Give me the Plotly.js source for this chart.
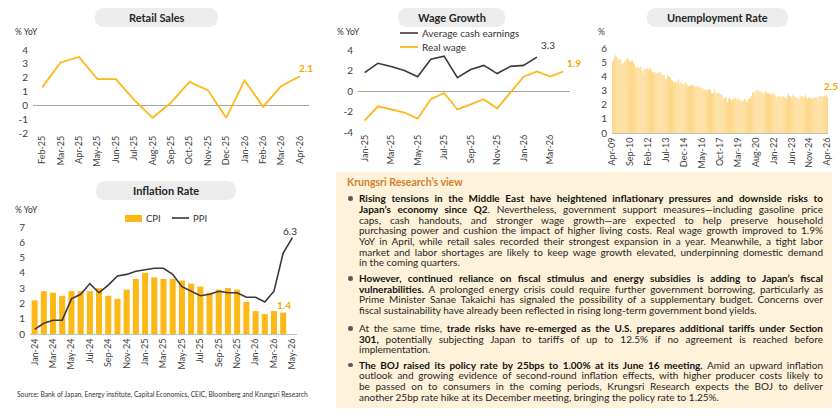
<!DOCTYPE html>
<html>
<head>
<meta charset="utf-8">
<script src="https://cdn.plot.ly/plotly-3.0.1.min.js"></script>
<style>
  html, body { margin: 0; padding: 0; background: #ffffff; }
  #wrap { position: relative; width: 840px; height: 419px; overflow: hidden; font-family: Lato, "Open Sans", sans-serif; }
  #chart { position: absolute; left: 0; top: 0; width: 840px; height: 419px; }
  #view { position: absolute; left: 336px; top: 172px; width: 496px; height: 236px; background: #FEF3DA; }
  #view .ttl { position: absolute; left: 11px; top: 4px; font-size: 10.5px; font-weight: 700; color: #D07F2E; line-height: 13px; }
  #view .para { position: absolute; left: 23px; width: 464px; color: #1e1e1e; font-size: 10px; }
  #view .ln { white-space: nowrap; height: 10.7px; line-height: 10.7px; }
  #view b { font-weight: 700; color: #111; }
  #view .dot { position: absolute; left: 12px; width: 4.6px; height: 4.6px; border-radius: 50%; background: #5a5a5a; }
</style>
</head>
<body>
<div id="wrap">
  <div id="chart"></div>
  <div id="view">
    <div class="ttl">Krungsri Research’s view</div>

    <div class="dot" style="top:24.4px"></div>
    <div class="para" style="top:21.3px">
      <div class="ln j"><span><b>Rising tensions in the Middle East have heightened inflationary pressures and downside risks to</b></span></div>
      <div class="ln j"><span><b>Japan’s economy since Q2</b>. Nevertheless, government support measures—including gasoline price</span></div>
      <div class="ln j"><span>caps, cash handouts, and stronger wage growth—are expected to help preserve household</span></div>
      <div class="ln j"><span>purchasing power and cushion the impact of higher living costs. Real wage growth improved to 1.9%</span></div>
      <div class="ln j"><span>YoY in April, while retail sales recorded their strongest expansion in a year. Meanwhile, a tight labor</span></div>
      <div class="ln j"><span>market and labor shortages are likely to keep wage growth elevated, underpinning domestic demand</span></div>
      <div class="ln"><span>in the coming quarters.</span></div>
    </div>

    <div class="dot" style="top:104px"></div>
    <div class="para" style="top:101px">
      <div class="ln j"><span><b>However, continued reliance on fiscal stimulus and energy subsidies is adding to Japan’s fiscal</b></span></div>
      <div class="ln j"><span><b>vulnerabilities.</b> A prolonged energy crisis could require further government borrowing, particularly as</span></div>
      <div class="ln j"><span>Prime Minister Sanae Takaichi has signaled the possibility of a supplementary budget. Concerns over</span></div>
      <div class="ln"><span>fiscal sustainability have already been reflected in rising long-term government bond yields.</span></div>
    </div>

    <div class="dot" style="top:154px"></div>
    <div class="para" style="top:151px">
      <div class="ln j"><span>At the same time, <b>trade risks have re-emerged as the U.S. prepares additional tariffs under Section</b></span></div>
      <div class="ln j"><span><b>301,</b> potentially subjecting Japan to tariffs of up to 12.5% if no agreement is reached before</span></div>
      <div class="ln"><span>implementation.</span></div>
    </div>

    <div class="dot" style="top:190.7px"></div>
    <div class="para" style="top:187.7px">
      <div class="ln j"><span><b>The BOJ raised its policy rate by 25bps to 1.00% at its June 16 meeting.</b> Amid an upward inflation</span></div>
      <div class="ln j"><span>outlook and growing evidence of second-round inflation effects, with higher producer costs likely to</span></div>
      <div class="ln j"><span>be passed on to consumers in the coming periods, Krungsri Research expects the BOJ to deliver</span></div>
      <div class="ln"><span>another 25bp rate hike at its December meeting, bringing the policy rate to 1.25%.</span></div>
    </div>
  </div>
</div>

<script>
// ---------- Retail sales (% YoY) ----------
const retailMonths = ['Feb-25','Mar-25','Apr-25','May-25','Jun-25','Jul-25','Aug-25','Sep-25',
                      'Oct-25','Nov-25','Dec-25','Jan-26','Feb-26','Mar-26','Apr-26'];
const retailSales = [1.3, 3.1, 3.5, 1.9, 1.9, 0.4, -0.9, 0.2, 1.7, 1.1, -0.9, 1.8, -0.1, 1.4, 2.1];
const retailTicks = [-2, -1, 0, 1, 2, 3, 4];

// ---------- Wage growth (% YoY) ----------
const wageMonths = ['Jan-25','Feb-25','Mar-25','Apr-25','May-25','Jun-25','Jul-25','Aug-25',
                    'Sep-25','Oct-25','Nov-25','Dec-25','Jan-26','Feb-26','Mar-26','Apr-26'];
const avgCashEarnings = [1.8, 2.7, 2.4, 2.0, 1.4, 3.1, 3.4, 1.3, 2.1, 2.5, 1.7, 2.4, 2.5, 3.3];
const realWage = [-2.9, -1.5, -1.8, -2.1, -2.7, -0.8, -0.2, -1.8, -1.3, -0.8, -1.7, -0.1, 1.4, 1.9, 1.4, 1.9];
const wageTicks = [-4, -2, 0, 2, 4];

// ---------- Unemployment rate (%), monthly from Apr-09 ----------
const unempStart = { year: 2009, month: 4 };
const unemployment = [
  5.0, 5.2, 5.4, 5.5, 5.4, 5.3, 5.1, 5.2, 5.2,                    // 2009 Apr-Dec
  4.9, 4.9, 5.0, 5.1, 5.2, 5.3, 5.2, 5.1, 5.0, 5.1, 5.1, 4.9,     // 2010
  4.9, 4.7, 4.6, 4.7, 4.6, 4.6, 4.7, 4.4, 4.2, 4.5, 4.5, 4.5,     // 2011
  4.6, 4.5, 4.5, 4.6, 4.4, 4.3, 4.3, 4.2, 4.3, 4.2, 4.2, 4.3,     // 2012
  4.2, 4.3, 4.1, 4.1, 4.1, 3.9, 3.8, 4.1, 4.0, 4.0, 3.9, 3.7,     // 2013
  3.7, 3.6, 3.6, 3.6, 3.5, 3.7, 3.8, 3.5, 3.6, 3.5, 3.5, 3.4,     // 2014
  3.6, 3.5, 3.4, 3.3, 3.3, 3.4, 3.3, 3.4, 3.4, 3.2, 3.3, 3.3,     // 2015
  3.2, 3.3, 3.2, 3.2, 3.2, 3.1, 3.0, 3.1, 3.0, 3.0, 3.1, 3.1,     // 2016
  3.0, 2.8, 2.8, 2.8, 3.1, 2.8, 2.8, 2.8, 2.8, 2.8, 2.7, 2.7,     // 2017
  2.4, 2.5, 2.5, 2.5, 2.2, 2.4, 2.5, 2.4, 2.3, 2.4, 2.5, 2.4,     // 2018
  2.5, 2.3, 2.5, 2.4, 2.3, 2.3, 2.3, 2.2, 2.4, 2.4, 2.2, 2.2,     // 2019
  2.4, 2.4, 2.5, 2.6, 2.9, 2.8, 2.9, 3.0, 3.0, 3.1, 2.9, 3.0,     // 2020
  2.9, 2.9, 2.7, 2.8, 3.0, 2.9, 2.8, 2.8, 2.8, 2.7, 2.8, 2.7,     // 2021
  2.8, 2.7, 2.6, 2.5, 2.6, 2.6, 2.6, 2.5, 2.6, 2.6, 2.5, 2.5,     // 2022
  2.4, 2.6, 2.8, 2.6, 2.6, 2.5, 2.7, 2.6, 2.6, 2.5, 2.5, 2.4,     // 2023
  2.4, 2.6, 2.6, 2.6, 2.6, 2.5, 2.7, 2.5, 2.4, 2.5, 2.5, 2.4,     // 2024
  2.5, 2.4, 2.5, 2.5, 2.5, 2.5, 2.3, 2.6, 2.6, 2.6, 2.6, 2.6,     // 2025
  2.7, 2.6, 2.7, 2.5                                              // 2026 Jan-Apr
];
const unempTickStep = 17;
const unempTicks = [0, 1, 2, 3, 4, 5, 6];

// ---------- Inflation (% YoY) ----------
const inflMonths = ['Jan-24','Feb-24','Mar-24','Apr-24','May-24','Jun-24','Jul-24','Aug-24','Sep-24','Oct-24',
                    'Nov-24','Dec-24','Jan-25','Feb-25','Mar-25','Apr-25','May-25','Jun-25','Jul-25','Aug-25',
                    'Sep-25','Oct-25','Nov-25','Dec-25','Jan-26','Feb-26','Mar-26','Apr-26','May-26'];
const cpi = [2.2, 2.8, 2.7, 2.5, 2.8, 2.8, 2.8, 3.0, 2.5, 2.3, 2.9, 3.6, 4.0, 3.7,
             3.6, 3.6, 3.5, 3.3, 3.1, 2.7, 2.9, 3.0, 2.9, 2.1, 1.5, 1.3, 1.5, 1.4];
const ppi = [0.3, 0.7, 0.9, 0.9, 2.3, 2.6, 3.3, 2.7, 3.2, 3.8, 3.9, 4.1, 4.2, 4.3, 4.3,
             3.9, 3.1, 2.8, 2.5, 2.6, 2.8, 2.7, 2.7, 2.4, 2.4, 2.1, 2.8, 5.3, 6.3];
const inflTicks = [0, 1, 2, 3, 4, 5, 6, 7];

// ---------- helpers ----------
const W = 840, H = 419;
const fx = p => p / W;
const fy = p => 1 - p / H;
const MON = ['Jan','Feb','Mar','Apr','May','Jun','Jul','Aug','Sep','Oct','Nov','Dec'];
function monthLabels(start, n) {
  const out = [];
  for (let i = 0; i < n; i++) {
    const m = (start.month - 1 + i) % 12;
    const y = start.year + Math.floor((start.month - 1 + i) / 12);
    out.push(MON[m] + '-' + String(y % 100).padStart(2, '0'));
  }
  return out;
}
const every = (arr, step) => arr.filter((_, i) => i % step === 0);
const unempMonths = monthLabels(unempStart, unemployment.length);

const GOLD = '#FBB817';
const DARK = '#3E3838';
const LABEL_GOLD = '#F2A900';
const TXT = '#404040';
const FONT = 'Lato, "Open Sans", sans-serif';

function pill(x0, y0, x1, y1) {
  const r = (y1 - y0) / 2;
  const rx = r / W, ry = r / H;
  const X0 = fx(x0), X1 = fx(x1), Y0 = fy(y0), Y1 = fy(y1);
  return {
    type: 'path', xref: 'paper', yref: 'paper', layer: 'below',
    fillcolor: '#ECECEC', line: { width: 0 },
    path: `M ${X0 + rx},${Y0} L ${X1 - rx},${Y0} Q ${X1},${Y0} ${X1},${Y0 - ry} ` +
          `L ${X1},${Y1 + ry} Q ${X1},${Y1} ${X1 - rx},${Y1} L ${X0 + rx},${Y1} ` +
          `Q ${X0},${Y1} ${X0},${Y1 + ry} L ${X0},${Y0 - ry} Q ${X0},${Y0} ${X0 + rx},${Y0} Z`
  };
}
function txt(x, y, text, opts = {}) {
  return Object.assign({
    xref: 'paper', yref: 'paper', x: fx(x), y: fy(y), text, showarrow: false,
    xanchor: 'left', yanchor: 'middle', font: { family: FONT, size: 9, color: '#333' }
  }, opts);
}

// ---------- traces ----------
const traces = [
  { type: 'scatter', mode: 'lines', x: retailMonths, y: retailSales, xaxis: 'x', yaxis: 'y',
    line: { color: GOLD, width: 1.8 }, hoverinfo: 'skip' },
  { type: 'scatter', mode: 'lines', x: wageMonths.slice(0, avgCashEarnings.length), y: avgCashEarnings,
    xaxis: 'x2', yaxis: 'y2', line: { color: DARK, width: 1.6 }, name: 'Average cash earnings' },
  { type: 'scatter', mode: 'lines', x: wageMonths, y: realWage, xaxis: 'x2', yaxis: 'y2',
    line: { color: GOLD, width: 1.8 }, name: 'Real wage' },
  { type: 'bar', x: unempMonths, y: unemployment, xaxis: 'x3', yaxis: 'y3', width: 0.82,
    marker: { color: '#FDD27A', line: { width: 0 } }, name: 'Unemployment' },
  { type: 'bar', x: inflMonths.slice(0, cpi.length), y: cpi, xaxis: 'x4', yaxis: 'y4', width: 0.66,
    marker: { color: GOLD, line: { width: 0 } }, name: 'CPI' },
  { type: 'scatter', mode: 'lines', x: inflMonths, y: ppi, xaxis: 'x4', yaxis: 'y4',
    line: { color: DARK, width: 1.6 }, name: 'PPI' }
];

// ---------- axes ----------
const xBase = {
  type: 'category', tickmode: 'array', tickangle: -90, ticks: '', showgrid: false, zeroline: false,
  tickfont: { family: FONT, size: 9, color: TXT }, fixedrange: true
};
const yBase = {
  showgrid: false, showline: false, ticks: '', tickmode: 'array',
  tickfont: { family: FONT, size: 10, color: TXT },
  zeroline: true, zerolinecolor: '#A6A6A6', zerolinewidth: 1, fixedrange: true, ticklabelstandoff: 4
};
const yTicks = vals => ({ tickvals: vals, ticktext: vals.map(v => String(v)) });

const layout = {
  width: W, height: H, autosize: false, showlegend: false,
  margin: { l: 0, r: 0, t: 0, b: 0 },
  paper_bgcolor: 'rgba(0,0,0,0)', plot_bgcolor: 'rgba(0,0,0,0)',
  font: { family: FONT },

  xaxis:  Object.assign({}, xBase, { domain: [fx(33), fx(309)], anchor: 'y', range: [-0.5, retailMonths.length - 0.5],
            tickvals: retailMonths, ticktext: retailMonths }),
  yaxis:  Object.assign({}, yBase, yTicks(retailTicks), { domain: [fy(133), fy(50)], anchor: 'x', range: [-2, 4] }),

  xaxis2: Object.assign({}, xBase, { domain: [fx(358), fx(570)], anchor: 'y2', range: [-0.5, wageMonths.length - 0.5],
            tickvals: every(wageMonths, 2), ticktext: every(wageMonths, 2) }),
  yaxis2: Object.assign({}, yBase, yTicks(wageTicks), { domain: [fy(132), fy(50)], anchor: 'x2', range: [-4, 4] }),

  xaxis3: Object.assign({}, xBase, { domain: [fx(612), fx(828)], anchor: 'y3', range: [-0.5, unempMonths.length - 0.5],
            tickvals: every(unempMonths, unempTickStep), ticktext: every(unempMonths, unempTickStep),
            showline: true, linecolor: '#BFBFBF', linewidth: 1 }),
  yaxis3: Object.assign({}, yBase, yTicks(unempTicks), { domain: [fy(133), fy(48)], anchor: 'x3', range: [0, 6], zeroline: false }),

  xaxis4: Object.assign({}, xBase, { domain: [fx(30), fx(297)], anchor: 'y4', range: [-0.5, inflMonths.length - 0.5],
            tickvals: every(inflMonths, 2), ticktext: every(inflMonths, 2),
            showline: true, linecolor: '#BFBFBF', linewidth: 1 }),
  yaxis4: Object.assign({}, yBase, yTicks(inflTicks), { domain: [fy(334), fy(227)], anchor: 'x4', range: [0, 7], zeroline: false }),

  shapes: [
    pill(95, 8, 218, 27),
    pill(398, 8, 505, 27),
    pill(647, 8, 788, 27),
    pill(96, 181, 236, 200),
    // wage legend keys
    { type: 'line', xref: 'paper', yref: 'paper', x0: fx(400), x1: fx(418), y0: fy(33), y1: fy(33), line: { color: DARK, width: 1.6 } },
    { type: 'line', xref: 'paper', yref: 'paper', x0: fx(400), x1: fx(418), y0: fy(47), y1: fy(47), line: { color: GOLD, width: 1.8 } },
    // inflation legend keys
    { type: 'rect', xref: 'paper', yref: 'paper', x0: fx(125), x1: fx(142), y0: fy(222), y1: fy(215), fillcolor: GOLD, line: { width: 0 } },
    { type: 'line', xref: 'paper', yref: 'paper', x0: fx(172), x1: fx(189), y0: fy(218), y1: fy(218), line: { color: DARK, width: 1.6 } }
  ],

  annotations: [
    // panel titles
    txt(156.5, 17.5, '<b>Retail Sales</b>', { xanchor: 'center', font: { family: FONT, size: 11, color: '#262626' } }),
    txt(451.5, 17.5, '<b>Wage Growth</b>', { xanchor: 'center', font: { family: FONT, size: 11, color: '#262626' } }),
    txt(717.5, 17.5, '<b>Unemployment Rate</b>', { xanchor: 'center', font: { family: FONT, size: 11, color: '#262626' } }),
    txt(166, 190.5, '<b>Inflation Rate</b>', { xanchor: 'center', font: { family: FONT, size: 11, color: '#262626' } }),
    // unit labels
    txt(13, 32, '% YoY', { font: { family: FONT, size: 8.5, color: '#333' } }),
    txt(335, 32, '% YoY', { font: { family: FONT, size: 8.5, color: '#333' } }),
    txt(596, 32, '%', { font: { family: FONT, size: 8.5, color: '#333' } }),
    txt(13, 210, '% YoY', { font: { family: FONT, size: 8.5, color: '#333' } }),
    // legends
    txt(420, 33, 'Average cash earnings', { font: { family: FONT, size: 10, color: '#333' } }),
    txt(420, 47, 'Real wage', { font: { family: FONT, size: 10, color: '#333' } }),
    txt(144, 218, 'CPI', { font: { family: FONT, size: 9.5, color: '#333' } }),
    txt(191, 218, 'PPI', { font: { family: FONT, size: 9.5, color: '#333' } }),
    // value labels
    { xref: 'x', yref: 'y', x: retailMonths[retailMonths.length - 1], y: retailSales[retailSales.length - 1],
      text: '<b>' + retailSales[retailSales.length - 1].toFixed(1) + '</b>', showarrow: false,
      xshift: 6, yshift: 8, font: { family: FONT, size: 10, color: LABEL_GOLD } },
    { xref: 'x2', yref: 'y2', x: wageMonths[avgCashEarnings.length - 1], y: avgCashEarnings[avgCashEarnings.length - 1],
      text: avgCashEarnings[avgCashEarnings.length - 1].toFixed(1), showarrow: false,
      xshift: 11, yshift: 12, font: { family: FONT, size: 10, color: '#333' } },
    { xref: 'x2', yref: 'y2', x: wageMonths[wageMonths.length - 1], y: realWage[realWage.length - 1],
      text: '<b>' + realWage[realWage.length - 1].toFixed(1) + '</b>', showarrow: false,
      xshift: 11, yshift: 9, font: { family: FONT, size: 10, color: LABEL_GOLD } },
    { xref: 'x3', yref: 'y3', x: unempMonths[unempMonths.length - 1], y: unemployment[unemployment.length - 1],
      text: '<b>' + unemployment[unemployment.length - 1].toFixed(1) + '</b>', showarrow: false,
      xshift: 4, yshift: 12, font: { family: FONT, size: 10, color: LABEL_GOLD } },
    { xref: 'x4', yref: 'y4', x: inflMonths[ppi.length - 1], y: ppi[ppi.length - 1],
      text: ppi[ppi.length - 1].toFixed(1), showarrow: false,
      xshift: -2, yshift: 7, font: { family: FONT, size: 10, color: '#333' } },
    { xref: 'x4', yref: 'y4', x: inflMonths[cpi.length - 1], y: cpi[cpi.length - 1],
      text: '<b>' + cpi[cpi.length - 1].toFixed(1) + '</b>', showarrow: false,
      xshift: 1, yshift: 8, font: { family: FONT, size: 10, color: LABEL_GOLD } },
    // source line
    txt(15, 394, 'Source: Bank of Japan, Energy institute, Capital Economics, CEIC, Bloomberg and Krungsri Research',
        { font: { family: FONT, size: 6.7, color: '#333' } })
  ]
};

Plotly.newPlot('chart', traces, layout, { staticPlot: true, displayModeBar: false });

// Justify each commentary line to the column width
function fitLines() {
  document.querySelectorAll('#view .ln').forEach(el => {
    const span = el.firstElementChild;
    const target = el.clientWidth;
    let w = span.getBoundingClientRect().width;
    const chars = span.textContent.length;
    if (w > target) {
      const ls = Math.max(-0.6, (target - w) / chars);
      el.style.letterSpacing = ls + 'px';
      w = span.getBoundingClientRect().width;
    }
    if (el.classList.contains('j')) {
      const n = (span.textContent.match(/ /g) || []).length;
      if (n) el.style.wordSpacing = ((target - w) / n) + 'px';
    }
  });
}
if (document.fonts && document.fonts.ready) document.fonts.ready.then(fitLines); else fitLines();
</script>
</body>
</html>
